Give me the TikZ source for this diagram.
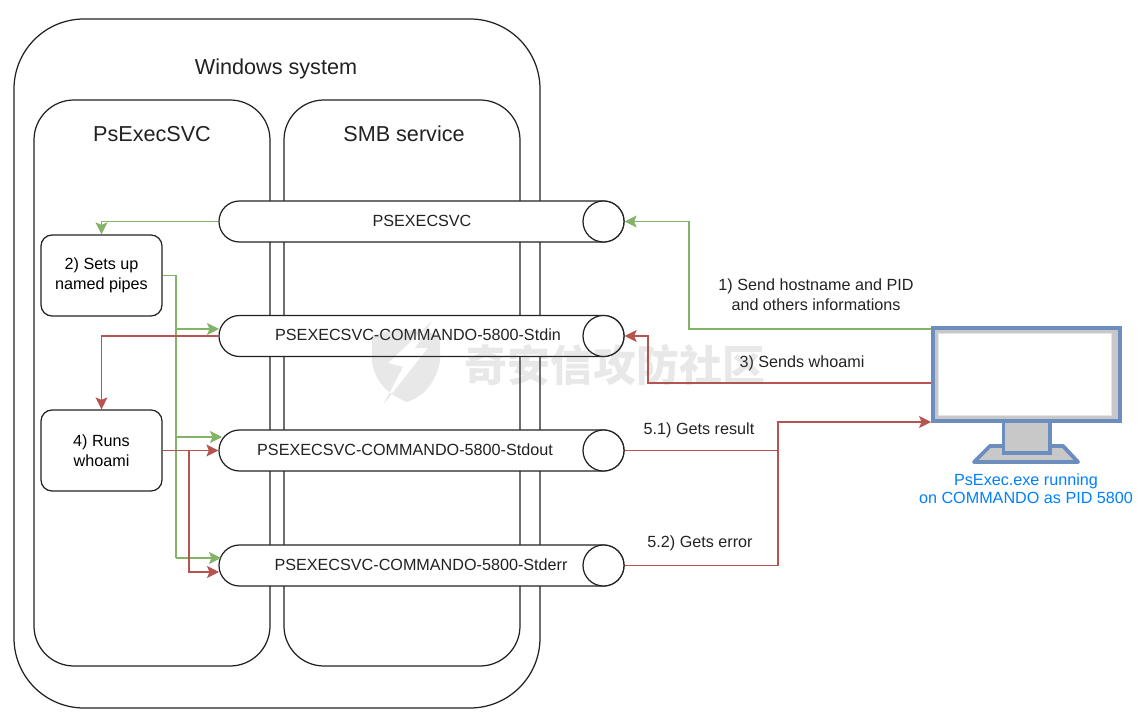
\documentclass[tikz,border=0pt]{standalone}
\usepackage{fontspec}
\setmainfont{Liberation Sans}
\newfontfamily\cjkfont{Noto Sans CJK SC}
\usepackage{tikz}
\usetikzlibrary{arrows.meta}

\definecolor{arrowgreen}{HTML}{82B366}
\definecolor{arrowred}{HTML}{B85450}
\definecolor{screenblue}{HTML}{6C8EBF}
\definecolor{screengray}{HTML}{C8C8C8}
\definecolor{captionblue}{HTML}{007FFF}
\definecolor{linegray}{HTML}{222222}

\tikzset{
    panel/.style = {draw = linegray, line width = .7pt, fill = white},
    pipe/.style = {draw = linegray, line width = .7pt, fill = white, rounded corners = .41cm,
        minimum width = 8.1cm, minimum height = .82cm, inner sep = 0pt},
    pipeend/.style = {draw = linegray, line width = .7pt, fill = white, circle,
        minimum size = .82cm, inner sep = 0pt},
    stepbox/.style = {draw = linegray, line width = .7pt, fill = white, rounded corners = .22cm,
        minimum width = 2.42cm, minimum height = 1.62cm, align = center, inner sep = 0pt,
        font = \fontsize{9.2}{11.4}\selectfont},
    label/.style = {align = center, text = linegray, font = \fontsize{9.2}{11.4}\selectfont},
    title/.style = {text = linegray, font = \fontsize{12.3}{14}\selectfont},
    greenline/.style = {draw = arrowgreen, line width = .7pt},
    redline/.style = {draw = arrowred, line width = .7pt},
    greenarrow/.style = {greenline, -{Stealth[length = .24cm, width = .24cm, inset = .05cm]}},
    redarrow/.style = {redline, -{Stealth[length = .24cm, width = .24cm, inset = .05cm]}}
}

\begin{document}
\begin{tikzpicture}
    \useasboundingbox (0, 0) rectangle (22.86, 14.46);

    % system and services
    \draw [panel, rounded corners = 1.4cm] (.28, .3) rectangle (10.8, 14.08);
    \draw [panel, rounded corners = .8cm] (.68, 1.14) rectangle (5.4, 12.46);
    \draw [panel, rounded corners = .8cm] (5.68, 1.14) rectangle (10.4, 12.46);
    \node [title] (system) at (5.52, 13.09) {Windows system};
    \node [title] (svc) at (3.04, 11.78) {PsExecSVC};
    \node [title] (smb) at (8.08, 11.78) {SMB service};

    % pipes
    \node [pipe] (pipemain) at (8.43, 10.03) {};
    \node [pipe] (pipein) at (8.43, 7.74) {};
    \node [pipe] (pipeout) at (8.43, 5.45) {};
    \node [pipe] (pipeerr) at (8.43, 3.15) {};
    \node [pipeend] (endmain) at (12.07, 10.03) {};
    \node [pipeend] (endin) at (12.07, 7.74) {};
    \node [pipeend] (endout) at (12.07, 5.45) {};
    \node [pipeend] (enderr) at (12.07, 3.15) {};
    \node [label] (textmain) at (8.44, 10.04) {PSEXECSVC};
    \node [label] (textin) at (8.36, 7.76) {PSEXECSVC-COMMANDO-5800-Stdin};
    \node [label] (textout) at (8.10, 5.46) {PSEXECSVC-COMMANDO-5800-Stdout};
    \node [label] (texterr) at (8.42, 3.16) {PSEXECSVC-COMMANDO-5800-Stderr};

    % steps
    \node [stepbox] (setup) at (2.03, 8.95) {2) Sets up\\named pipes};
    \node [stepbox] (runs) at (2.03, 5.45) {4) Runs\\whoami};

    % monitor
    \draw [screenblue, line width = 2.2pt, fill = screengray, line join = round]
        (19.48, 5.22) -- (19.8, 5.54) -- (21.26, 5.54) -- (21.56, 5.22) -- cycle;
    \draw [screenblue, line width = 2.2pt, fill = screengray] (20.07, 5.4) rectangle (21.0, 6.06);
    \node [draw = screenblue, line width = 2.2pt, fill = screengray, minimum width = 3.74cm,
        minimum height = 1.86cm, inner sep = 0pt] (screen) at (20.53, 6.97) {};
    \node [fill = white, draw = white!90!black, minimum width = 3.46cm, minimum height = 1.64cm,
        inner sep = 0pt] (glass) at (20.5, 6.97) {};
    \node [align = center, text = captionblue, font = \fontsize{9.2}{10.4}\selectfont] (caption)
        at (20.52, 4.68) {PsExec.exe running\\on COMMANDO as PID 5800};

    % bends of the connectors
    \coordinate (bendhost) at (13.78, 10.03);
    \coordinate (bendwhoami) at (12.96, 7.74);
    \coordinate (bendmain) at (2.03, 10.03);
    \coordinate (bendin) at (2.03, 7.74);
    \coordinate (trunkgreen) at (3.52, 8.95);
    \coordinate (trunkred) at (3.78, 5.45);
    \coordinate (resout) at (15.56, 5.45);
    \coordinate (reserr) at (15.56, 3.15);

    % green connectors
    \draw [greenarrow] ([yshift = .91cm]screen.west) -| (bendhost) -- (endmain.east);
    \draw [greenarrow] (pipemain.west) -- (bendmain) -- (setup.north);
    \draw [greenline] (setup.east) -- (trunkgreen) -- (3.52, 3.3);
    \draw [greenarrow] (3.52, 7.88) -- (4.38, 7.88);
    \draw [greenarrow] (3.52, 5.72) -- (4.44, 5.72);
    \draw [greenarrow] (3.52, 3.3) -- (4.42, 3.3);

    % red connectors
    \draw [redarrow] ([yshift = -.17cm]screen.west) -| (bendwhoami) -- (endin.east);
    \draw [redarrow] (pipein.west) -- (bendin) -- (runs.north);
    \draw [redarrow] (runs.east) -- (pipeout.west);
    \draw [redarrow] (trunkred) |- (4.38, 3.02);
    \draw [redarrow] (endout.east) -- (resout) |- ([yshift = -.95cm]screen.west);
    \draw [redline] (enderr.east) -- (reserr) -- (resout);

    % connector labels
    \node [label] (send) at (16.32, 8.56) {1) Send hostname and PID\\and others informations};
    \node [label] (sends) at (16.04, 7.2) {3) Sends whoami};
    \node [label] (result) at (13.98, 5.86) {5.1) Gets result};
    \node [label] (error) at (14.0, 3.6) {5.2) Gets error};

    % watermark
    \begin{scope}[opacity = .15]
        \fill [gray!80!black, even odd rule] (7.44, 7.74) .. controls (7.8, 7.9) and (8.4, 7.9) .. (8.8, 7.74)
            -- (8.8, 7.22) .. controls (8.7, 6.8) and (8.5, 6.55) .. (8.14, 6.42)
            .. controls (7.8, 6.55) and (7.5, 6.8) .. (7.44, 7.22) -- cycle
            (8.64, 8.04) -- (7.76, 7.2) -- (8.06, 7.12) -- (7.66, 6.36) -- (8.56, 7.5) -- (8.3, 7.5) -- cycle;
        \node [text = gray!80!black, inner sep = 0pt, font = \fontsize{24.4}{26}\bfseries\cjkfont] (mark)
            at (12.3, 7.16) {奇安信攻防社区};
    \end{scope}
\end{tikzpicture}
\end{document}
